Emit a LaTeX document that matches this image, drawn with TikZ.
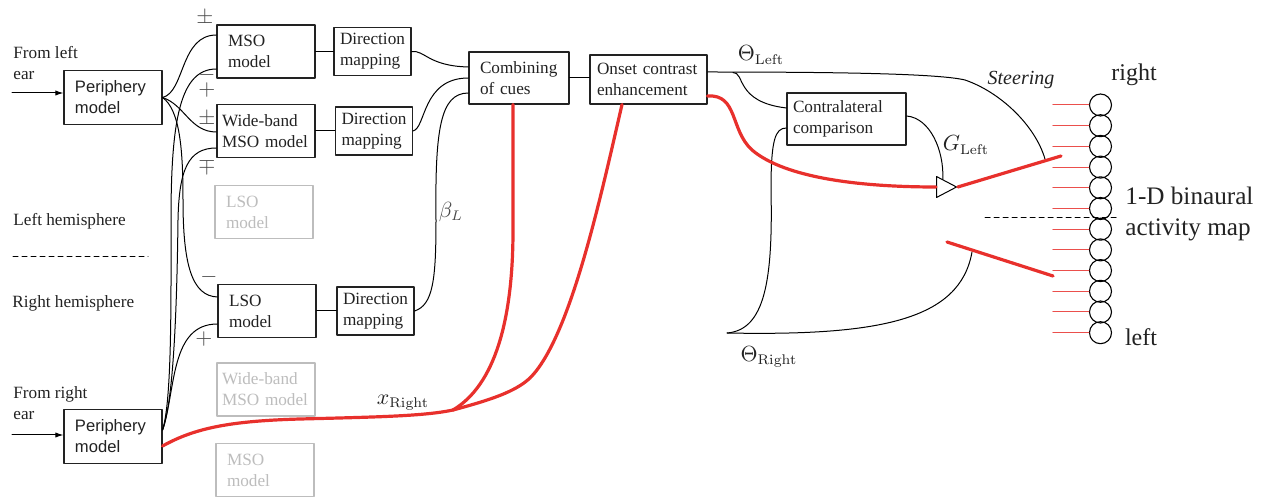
\documentclass[tikz,border=0pt]{standalone}
\usepackage[no-math]{fontspec}
\setmainfont{Liberation Serif}
\setsansfont{Liberation Sans}
\usetikzlibrary{arrows.meta,calc,positioning,shapes.geometric}
\definecolor{bnInk}{HTML}{222222}
\definecolor{bnRed}{HTML}{E8302C}
\definecolor{bnGhost}{HTML}{BDBDBD}
\definecolor{bnSign}{HTML}{4A4A4A}
\tikzset{
 binaural/.style={font=\fontsize{8.6}{10.5}\selectfont,line cap=round,line join=round,text=bnInk},
 blk/.style={draw=bnInk,fill=white,line width=.55pt,align=left,inner ysep=0pt},
 model/.style={blk,inner xsep=5.5pt,text width=38pt,minimum height=26.5pt},
 wideblk/.style={blk,inner xsep=2.5pt,text width=44pt,minimum height=26.5pt},
 ghost/.style={draw=bnGhost,text=bnGhost},
 dirmap/.style={blk,inner xsep=3pt,text width=32.5pt,minimum height=24pt},
 periph/.style={blk,font=\sffamily\fontsize{8.3}{10.5}\selectfont,inner xsep=5.5pt,text width=38pt,minimum height=27pt},
 wire/.style={draw=black,line width=.5pt},
 signal/.style={draw=bnRed,line width=1.6pt},
 tick/.style={draw=bnRed!85,line width=.5pt},
 sign/.style={text=bnSign,font=\fontsize{11}{11}\selectfont,inner sep=0pt},
 mathlbl/.style={font=\fontsize{10.5}{12}\selectfont,inner sep=0pt},
 plain/.style={inner sep=0pt,align=left},
 cellc/.style={circle,draw=black,line width=.55pt,minimum size=11pt,inner sep=0pt},
 amplifier/.style={isosceles triangle,isosceles triangle stretches,draw=black,fill=white,line width=.5pt,inner sep=0pt,minimum width=10.5pt,minimum height=10pt},
 inarrow/.style={draw=black,line width=.5pt,-{Latex[length=4pt,width=2.6pt]}},
 hemi/.style={draw=black,line width=.5pt,dash pattern=on 2.5pt off 2pt}
}

\begin{document}
\begin{tikzpicture}[binaural,x=0.5pt,y=-0.5pt]
 \useasboundingbox (0,0) rectangle (1265,497);
 \node[periph] (perL) at (113,97.5) {Periphery\\model};
 \node[periph] (perR) at (113,436.5) {Periphery\\model};
 \node[model] (mso) at (266,51.5) {MSO\\model};
 \node[wideblk] (wide) at (266,131) {Wide-band\\MSO model};
 \node[model,ghost] (lsoG) at (264,212) {LSO\\model};
 \node[model] (lso) at (267,311) {LSO\\model};
 \node[wideblk,ghost] (wideG) at (266,389.5) {Wide-band\\MSO model};
 \node[model,ghost] (msoG) at (265,470) {MSO\\model};
 \node[dirmap] (dm1) at (372.5,51.5) {Direction\\mapping};
 \node[dirmap] (dm2) at (374,131) {Direction\\mapping};
 \node[dirmap] (dm3) at (375.5,311) {Direction\\mapping};
 \node[blk,inner xsep=5.5pt,text width=39pt,minimum height=26pt] (comb) at (519,78) {Combining\\of cues};
 \node[blk,inner xsep=3.5pt,text width=51.5pt,minimum height=24.5pt] (onset) at (648.5,79.5) {Onset contrast\\enhancement};
 \node[blk,inner xsep=3pt,text width=53.5pt,minimum height=26pt] (contra) at (846.5,119) {Contralateral\\comparison};
 \node[amplifier,anchor=west] (amp) at (936,187) {};

 \node[plain,anchor=west] (fromL) at (13,63) {From left\\ear};
 \node[plain,anchor=west] (fromR) at (13,403) {From right\\ear};
 \node[plain,anchor=west] (hemL) at (13,221) {Left hemisphere};
 \node[plain,anchor=west] (hemR) at (12,303) {Right hemisphere};
 \node[mathlbl] (thetaL) at (761,55) {$\Theta_{\mathrm{Left}}$};
 \node[mathlbl] (thetaR) at (769,357) {$\Theta_{\mathrm{Right}}$};
 \node[mathlbl] (gainL) at (966,145) {$G_{\mathrm{Left}}$};
 \node[mathlbl,text=bnSign] (betaL) at (451,212) {$\beta_L$};
 \node[mathlbl] (xR) at (403,403) {$x_{\mathrm{Right}}$};
 \node[plain,font=\itshape] (steer) at (1021,80) {Steering};
 \node[plain,font=\fontsize{12}{14}\selectfont] (rightlbl) at (1134,75) {right};
 \node[plain,font=\fontsize{12}{14}\selectfont] (leftlbl) at (1141,337) {left};
 \node[plain,anchor=west,font=\fontsize{12.6}{15.5}\selectfont] (mapname) at (1125,213.5) {1-D binaural\\activity map};
 \foreach \x/\y/\s [count=\k] in {205/18/\pm,207/75/-,207/90/+,207/119/\pm,207/166/\mp,209/277/-,204/339/+}
  {\node[sign] (sg\k) at (\x,\y) {$\s$};}

 \coordinate (earL) at (12,93);
 \coordinate (earR) at (12,435);
 \coordinate (msoA) at ($(mso.west)+(0,-16.5)$);
 \coordinate (msoB) at ($(mso.west)+(0,17.5)$);
 \coordinate (wideA) at ($(wide.west)+(0,1)$);
 \coordinate (wideB) at ($(wide.west)+(0,17)$);
 \coordinate (lsoA) at ($(lso.west)+(0,-14)$);
 \coordinate (lsoB) at ($(lso.west)+(0,13)$);
 \coordinate (perRo) at ($(perR.east)+(0,-6.5)$);
 \coordinate (perRx) at ($(perR.east)+(0,9.5)$);
 \coordinate (combA) at ($(comb.west)+(0,-11)$);
 \coordinate (combC) at ($(comb.west)+(0,15)$);
 \coordinate (combS) at ($(comb.south)+(-6,0)$);
 \coordinate (onsetS) at ($(onset.south)+(-26.5,0)$);
 \coordinate (onsetTh) at ($(onset.east)+(0,-7.5)$);
 \coordinate (onsetX) at ($(onset.east)+(0,16.5)$);
 \coordinate (contraA) at ($(contra.west)+(0,-11)$);
 \coordinate (contraB) at ($(contra.west)+(0,9)$);
 \coordinate (contraO) at ($(contra.east)+(0,-3)$);
 \coordinate (thSplit) at (733,72.5);
 \coordinate (xsplit) at (453,410);
 \coordinate (thR) at (727,333);
 \coordinate (steerEnd) at (1045,159);
 \coordinate (thRend) at (972,252);
 \coordinate (gainHi) at (1061,156);
 \coordinate (gainLo1) at (947,242);
 \coordinate (gainLo2) at (1053,276);

 \draw[inarrow] (earL) -- (perL.west |- earL);
 \draw[inarrow] (earR) -- (perR.west |- earR);
 \draw[hemi] (13,257) -- (148,257);
 \draw[hemi] (985,218) -- (1118,218);

 \draw[wire] (perL.east) .. controls (185,92) and (180,35) .. (msoA);
 \draw[wire] (perL.east) .. controls (185,105) and (190,132) .. (wideA);
 \draw[wire] (perL.east) .. controls (180,110) and (183,150) .. (183,200) .. controls (183,265) and (192,296) .. (lsoA);
 \draw[wire] (perRo) .. controls (172,400) and (171,300) .. (171,220) .. controls (171,120) and (180,69) .. (msoB);
 \draw[wire] (perRo) .. controls (174,400) and (177,300) .. (178,220) .. controls (179,170) and (188,148) .. (wideB);
 \draw[wire] (perRo) .. controls (176,390) and (170,324) .. (lsoB);
 \draw[wire] (mso.east) -- (dm1.west);
 \draw[wire] (wide.east) -- (dm2.west);
 \draw[wire] (lso.east) -- (dm3.west);
 \draw[wire] (dm1.east) .. controls (425,50) and (428,66) .. (combA);
 \draw[wire] (dm2.east) .. controls (426,128) and (422,78) .. (comb.west);
 \draw[wire] (dm3.east) .. controls (433,305) and (436,280) .. (436,220) .. controls (435,130) and (440,93) .. (combC);
 \draw[wire] (comb.east) -- (comb.east -| onset.west);

 \draw[wire] (onsetTh) .. controls (850,72) and (940,74) .. (965,80) .. controls (1000,92) and (1035,125) .. (steerEnd);
 \draw[wire] (thSplit) .. controls (745,72) and (735,102) .. (contraA);
 \draw[wire] (contraB) .. controls (775,128) and (771,140) .. (771,190) .. controls (773,280) and (765,330) .. (thR);
 \draw[wire] (thR) .. controls (880,336) and (960,320) .. (thRend);
 \draw[wire] (contraO) .. controls (930,118) and (944,150) .. (amp.north);

 \draw[signal] (perRx) .. controls (195,428) and (230,421) .. (300,419) .. controls (380,417) and (425,416) .. (xsplit);
 \draw[signal] (xsplit) .. controls (495,385) and (513,320) .. (513,230) -- (combS);
 \draw[signal] (xsplit) .. controls (490,400) and (515,392) .. (530,378) .. controls (570,338) and (600,200) .. (onsetS);
 \draw[signal] (onsetX) .. controls (738,94) and (730,130) .. (752,150) .. controls (785,178) and (860,187) .. (amp.west);
 \draw[signal] (amp.apex) -- (gainHi);
 \draw[signal] (gainLo1) -- (gainLo2);

 \foreach \i in {1,...,12}{
  \node[cellc] (cell\i) at (1100.5,{105+(\i-1)*20.7}) {};
  \draw[tick] (cell\i.west) -- ++(-36,0);
 }
\end{tikzpicture}
\end{document}
